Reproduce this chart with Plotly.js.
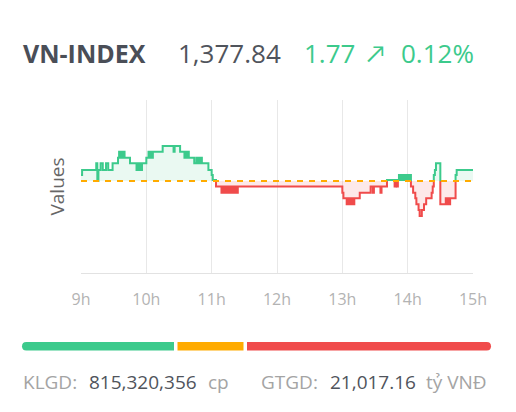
<!DOCTYPE html>
<html>
<head>
<meta charset="utf-8">
<script src="https://cdn.plot.ly/plotly-3.0.1.min.js"></script>
<style>
html,body{margin:0;padding:0;background:#fff;}
#chart{width:516px;height:412px;}
</style>
</head>
<body>
<div id="chart"></div>
<script>
// ---------------- data ----------------
const indexName = 'VN-INDEX';
const lastValue = '1,377.84';
const changeValue = '1.77';
const changePct = '0.12%';
const refValue = 1376.07;

const times = [
  '09:00','09:01','09:14','09:15','09:16','09:18','09:20','09:23','09:25','09:29',
  '09:34','09:35','09:36','09:37','09:38','09:39','09:40','09:45',
  '09:51','09:52','09:53','09:54','09:55','09:56',
  '10:00','10:02','10:03','10:04','10:05','10:06','10:15','10:25','10:26','10:31',
  '10:35','10:36','10:37','10:38','10:39','10:44',
  '10:46','10:47','10:48','10:49','10:50','10:51','10:57','11:00','11:01','11:04',
  '11:09','11:10','11:11','11:12','11:13','11:14','11:15','11:16','11:17','11:18',
  '11:19','11:20','11:21','11:22','11:23','11:24',
  '13:00','13:01','13:04','13:05','13:06','13:07','13:08','13:09','13:10','13:11',
  '13:16','13:26','13:28','13:29','13:35','13:36','13:41','13:48','13:49','13:50','13:51',
  '13:52','13:53','13:54','13:55','13:56','13:57','13:58','13:59','14:00','14:01','14:02',
  '14:03','14:05','14:07','14:08','14:10','14:11','14:13','14:15','14:17','14:22',
  '14:23','14:24','14:25','14:26','14:30','14:35','14:36','14:37','14:38','14:39',
  '14:44','14:45','15:00'
];
const values = [
  1377.03,1377.84,1378.91,1376.07,1377.84,1378.91,1377.84,1378.91,1377.84,1378.91,
  1379.82,1380.79,1379.82,1380.79,1379.82,1380.79,1379.82,1378.91,
  1377.84,1378.91,1377.84,1378.91,1377.84,1378.91,
  1379.82,1380.79,1379.82,1380.79,1379.82,1380.79,1381.70,1380.79,1381.70,1380.79,
  1379.82,1380.79,1379.82,1380.79,1379.82,1378.91,
  1379.82,1378.91,1379.82,1378.91,1379.82,1378.91,1377.84,1377.03,1376.23,1375.16,
  1374.19,1375.16,1374.19,1375.16,1374.19,1375.16,1374.19,1375.16,1374.19,1375.16,
  1374.19,1375.16,1374.19,1375.16,1374.19,1375.16,
  1374.19,1373.28,1372.32,1373.28,1372.32,1373.28,1372.32,1373.28,1372.32,1373.28,
  1374.19,1375.16,1374.19,1375.16,1374.19,1375.16,1376.23,1375.16,1376.23,1375.16,1376.23,
  1377.03,1376.23,1377.03,1376.23,1377.03,1376.23,1377.03,1376.23,1377.03,1376.23,1377.03,
  1375.16,1374.19,1373.28,1372.32,1371.41,1370.44,1371.41,1372.32,1373.28,1374.19,
  1375.16,1377.03,1377.84,1378.91,1372.32,1373.28,1372.32,1373.28,1372.32,1373.28,
  1377.03,1377.84,1377.84
];
const hourTicks = ['09:00','10:00','11:00','12:00','13:00','14:00','15:00'];
const hourLabels = ['9h','10h','11h','12h','13h','14h','15h'];
const breadthCounts = [152, 66, 244];   // advancing, unchanged, declining
const volumeLabel = 'KLGD:';
const volumeValue = '815,320,356';
const volumeUnit = 'cp';
const turnoverLabel = 'GTGD:';
const turnoverValue = '21,017.16';
const turnoverUnit = 'tỷ VNĐ';

// ---------------- styling ----------------
const GREEN = '#3cca8c';
const RED = '#f04b4b';
const ORANGE = '#ffab00';
const FONT = 'Open Sans, Lato, sans-serif';

const W = 516, H = 412;
const M = {l: 81, r: 43, t: 100, b: 139};
const PW = W - M.l - M.r, PH = H - M.t - M.b;
const px = X => (X - M.l) / PW;
const py = Y => (M.t + PH - Y) / PH;

function toMs(hhmm) {
  const p = hhmm.split(':').map(Number);
  return Date.UTC(2025, 0, 2, p[0], p[1]);
}
const xs = times.map(toMs);

// step polyline split into above / below the reference
function splitLine(tx, vy, base) {
  const pts = [];
  for (let i = 0; i < tx.length; i++) {
    if (i > 0) pts.push([tx[i], vy[i - 1]]);
    pts.push([tx[i], vy[i]]);
  }
  const up = {x: [], y: []}, dn = {x: [], y: []};
  let cur = null;
  for (let k = 0; k < pts.length - 1; k++) {
    const a = pts[k], b = pts[k + 1];
    const pieces = [];
    if ((a[1] - base) * (b[1] - base) < 0) {
      const m = [a[0], base];
      pieces.push([a, m], [m, b]);
    } else pieces.push([a, b]);
    for (const pc of pieces) {
      const mid = (pc[0][1] + pc[1][1]) / 2;
      const side = mid >= base ? up : dn;
      if (side !== cur) {
        if (cur) { cur.x.push(null); cur.y.push(null); }
        cur = side;
        side.x.push(pc[0][0]); side.y.push(pc[0][1]);
      }
      side.x.push(pc[1][0]); side.y.push(pc[1][1]);
    }
  }
  return {up, dn};
}
const split = splitLine(xs, values, refValue);
const baseArr = xs.map(() => refValue);

const traces = [
  {x: xs, y: baseArr, mode: 'lines', line: {width: 0, shape: 'hv'}, hoverinfo: 'skip', showlegend: false},
  {x: xs, y: values.map(v => Math.max(v, refValue)), mode: 'lines', fill: 'tonexty',
   fillcolor: 'rgba(60,202,140,0.11)', line: {width: 0, shape: 'hv'}, hoverinfo: 'skip', showlegend: false},
  {x: xs, y: baseArr, mode: 'lines', line: {width: 0, shape: 'hv'}, hoverinfo: 'skip', showlegend: false},
  {x: xs, y: values.map(v => Math.min(v, refValue)), mode: 'lines', fill: 'tonexty',
   fillcolor: 'rgba(240,75,75,0.12)', line: {width: 0, shape: 'hv'}, hoverinfo: 'skip', showlegend: false},
  {x: split.up.x, y: split.up.y, mode: 'lines', connectgaps: false, line: {color: GREEN, width: 2}, showlegend: false},
  {x: split.dn.x, y: split.dn.y, mode: 'lines', connectgaps: false, line: {color: RED, width: 2}, showlegend: false},
  {x: [toMs(hourTicks[0]), toMs(hourTicks[hourTicks.length - 1])], y: [refValue, refValue], mode: 'lines',
   line: {color: ORANGE, width: 2, dash: '6px,6px'}, showlegend: false}
];

// breadth bar shapes (pixel paths anchored at the plot's bottom-left corner)
function barPath(x0, x1, top, bot, rl, rr) {
  const r = (bot - top) / 2, mid = (top + bot) / 2;
  const P = (x, y) => (x - M.l).toFixed(2) + ',' + (M.t + PH - y).toFixed(2);
  let d = 'M' + P(rl ? x0 + r : x0, top) + ' L' + P(rr ? x1 - r : x1, top);
  if (rr) d += ' Q' + P(x1, top) + ' ' + P(x1, mid) + ' Q' + P(x1, bot) + ' ' + P(x1 - r, bot);
  else d += ' L' + P(x1, bot);
  d += ' L' + P(rl ? x0 + r : x0, bot);
  if (rl) d += ' Q' + P(x0, bot) + ' ' + P(x0, mid) + ' Q' + P(x0, top) + ' ' + P(x0 + r, top);
  else d += ' L' + P(x0, top);
  return d + ' Z';
}
const barLeft = 22, barRight = 491, barGap = 3.5, barTop = 342, barBot = 350.5;
const total = breadthCounts.reduce((a, b) => a + b, 0);
const usable = barRight - barLeft - barGap * (breadthCounts.length - 1);
const barColors = [GREEN, ORANGE, RED];
const shapes = [];
let cx = barLeft;
breadthCounts.forEach((c, i) => {
  const w = c / total * usable;
  shapes.push({
    type: 'path', xref: 'paper', yref: 'paper', xsizemode: 'pixel', ysizemode: 'pixel',
    xanchor: 0, yanchor: 0,
    path: barPath(cx, cx + w, barTop, barBot, i === 0, i === breadthCounts.length - 1),
    fillcolor: barColors[i], line: {width: 0}
  });
  cx += w + barGap;
});

function ann(text, X, Y, size, color, extra) {
  return Object.assign({
    text: text, xref: 'paper', yref: 'paper', x: px(X), y: py(Y),
    xanchor: 'left', yanchor: 'middle', showarrow: false,
    font: {family: FONT, size: size, color: color}
  }, extra || {});
}
const annotations = [
  ann('<b>' + indexName + '</b>', 21, 52.5, 25, '#4a4e57'),
  ann(lastValue, 176, 52.5, 26, '#50545c'),
  ann(changeValue, 302, 52.5, 26, GREEN),
  ann('↗', 365, 52.5, 24, GREEN),
  ann(changePct, 399, 52.5, 26, GREEN),
  ann(volumeLabel, 21, 382, 19, '#a4a4a4'),
  ann(volumeValue, 87, 382, 19, '#50545c'),
  ann(volumeUnit, 206, 382, 19, '#a4a4a4'),
  ann(turnoverLabel, 259, 382, 19, '#a4a4a4'),
  ann(turnoverValue, 328, 382, 19, '#50545c'),
  ann(turnoverUnit, 424, 382, 19, '#a4a4a4')
];

const layout = {
  width: W, height: H, autosize: false,
  margin: M,
  paper_bgcolor: '#fff', plot_bgcolor: '#fff',
  font: {family: FONT},
  showlegend: false, hovermode: false,
  xaxis: {
    type: 'date',
    range: [toMs(hourTicks[0]), toMs(hourTicks[hourTicks.length - 1])],
    tickmode: 'array', tickvals: hourTicks.map(toMs), ticktext: hourLabels,
    showgrid: true, gridcolor: '#e8e8e8', gridwidth: 1,
    showline: true, linecolor: '#e2e2e2', linewidth: 1,
    ticks: 'outside', ticklen: 12, tickcolor: 'rgba(0,0,0,0)',
    tickfont: {family: FONT, size: 16, color: '#b3b3b3'},
    zeroline: false, fixedrange: true
  },
  yaxis: {
    range: [1361.26, 1389.1],
    showgrid: false, zeroline: false, showline: false, showticklabels: false, ticks: '',
    title: {text: 'Values', font: {family: FONT, size: 19, color: '#666'}, standoff: 10},
    fixedrange: true
  },
  shapes: shapes,
  annotations: annotations
};

Plotly.newPlot('chart', traces, layout, {staticPlot: true, displayModeBar: false});
</script>
</body>
</html>
